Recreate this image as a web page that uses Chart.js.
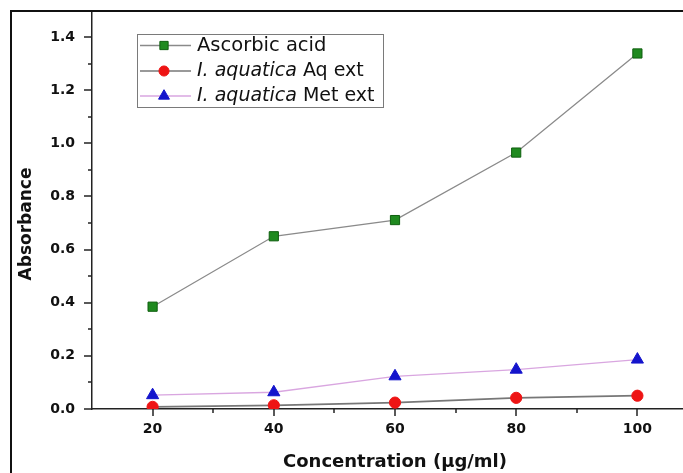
<!DOCTYPE html>
<html><head><meta charset="utf-8">
<script src="https://cdn.jsdelivr.net/npm/chart.js@4.4.1/dist/chart.umd.min.js"></script>
<style>
html,body{margin:0;padding:0;background:#fff;overflow:hidden}
#wrap{position:relative;width:683px;height:473px;overflow:hidden;background:#fff}
#frame{position:absolute;left:10px;top:10px;width:720px;height:520px;border-top:2px solid #111;border-left:2px solid #111;pointer-events:none}
canvas{position:absolute;left:0;top:0}
</style></head><body>
<div id="wrap"><canvas id="c" width="706" height="473"></canvas><div id="frame"></div></div>
<script>
// ---- data ----
const concentrations = [20, 40, 60, 80, 100];
const ascorbicAcid   = [0.385, 0.650, 0.711, 0.965, 1.338];
const aquaticaAq     = [0.008, 0.014, 0.024, 0.042, 0.050];
const aquaticaMet    = [0.052, 0.063, 0.123, 0.148, 0.186];
const seriesNames    = ['Ascorbic acid', 'I. aquatica Aq ext', 'I. aquatica Met ext'];
const xTickLabels    = ['20', '40', '60', '80', '100'];
const yTickLabels    = ['0.0', '0.2', '0.4', '0.6', '0.8', '1.0', '1.2', '1.4'];
const xTitle = 'Concentration (\u03bcg/ml)';
const yTitle = 'Absorbance';

const toPoints = arr => concentrations.map((c, i) => ({x: c, y: arr[i]}));

const styles = [
  {line: '#8a8a8a', fill: '#1f8a1f', edge: '#0f5f0f', shape: 'rect', r: 6.5, bw: 1.3},
  {line: '#777777', fill: '#ee1414', edge: '#ee1414', shape: 'circle', r: 5.6, bw: 1.8},
  {line: '#d9a6e0', fill: '#1414cc', edge: '#1414cc', shape: 'triangle', r: 7, bw: 1.3}
];
const seriesData = [ascorbicAcid, aquaticaAq, aquaticaMet];

const datasets = seriesData.map((arr, i) => ({
  label: seriesNames[i],
  data: toPoints(arr),
  borderColor: styles[i].line,
  borderWidth: styles[i].bw,
  backgroundColor: styles[i].fill,
  pointBackgroundColor: styles[i].fill,
  pointBorderColor: styles[i].edge,
  pointBorderWidth: 1,
  pointStyle: styles[i].shape,
  pointRadius: styles[i].r,
  pointHoverRadius: styles[i].r,
  tension: 0,
  fill: false
}));

function drawMarker(ctx, shape, x, y, r, fill, edge) {
  ctx.save();
  ctx.fillStyle = fill; ctx.strokeStyle = edge; ctx.lineWidth = 1;
  ctx.beginPath();
  if (shape === 'rect') {
    const s = r * Math.SQRT1_2;
    ctx.rect(x - s, y - s, 2 * s, 2 * s);
  } else if (shape === 'circle') {
    ctx.arc(x, y, r, 0, Math.PI * 2);
  } else {
    const h = r * 1.5, half = r * Math.sqrt(3) / 2;
    ctx.moveTo(x, y - r);
    ctx.lineTo(x + half, y - r + h);
    ctx.lineTo(x - half, y - r + h);
    ctx.closePath();
  }
  ctx.fill(); ctx.stroke();
  ctx.restore();
}

const tickPlugin = {
  id: 'originTicks',
  afterDraw(chart) {
    const ctx = chart.ctx, xs = chart.scales.x, ys = chart.scales.y;
    ctx.save();
    ctx.strokeStyle = '#222'; ctx.lineWidth = 1.5;
    xs.ticks.forEach(t => {
      if (t.value <= xs.min + 1e-9) return;
      const px = Math.round(xs.getPixelForValue(t.value));
      const major = xTickLabels.includes(String(Math.round(t.value)));
      ctx.beginPath(); ctx.moveTo(px, xs.top); ctx.lineTo(px, xs.top + (major ? 7 : 4)); ctx.stroke();
    });
    ys.ticks.forEach(t => {
      const py = Math.round(ys.getPixelForValue(t.value));
      const major = yTickLabels.includes(t.value.toFixed(1)) && Math.round(t.value * 10) % 2 === 0;
      ctx.beginPath(); ctx.moveTo(ys.right - (major ? 8 : 4), py); ctx.lineTo(ys.right, py); ctx.stroke();
    });
    // y axis title, placed like the reference (slightly below the axis centre)
    ctx.translate(27, 224);
    ctx.rotate(-Math.PI / 2);
    ctx.fillStyle = '#111';
    ctx.font = 'bold 17px "DejaVu Sans"';
    ctx.textAlign = 'center'; ctx.textBaseline = 'middle';
    ctx.fillText(yTitle, 0, 0);
    ctx.restore();
  }
};

const legendPlugin = {
  id: 'originLegend',
  afterDraw(chart) {
    const ctx = chart.ctx;
    const bx = 137, by = 34, bw = 246, bh = 73;
    ctx.save();
    ctx.fillStyle = '#fff';
    ctx.fillRect(bx, by, bw, bh);
    ctx.strokeStyle = '#7a7a7a'; ctx.lineWidth = 1;
    ctx.strokeRect(bx + 0.5, by + 0.5, bw, bh);
    const rows = [45.5, 71, 96];
    seriesNames.forEach((name, i) => {
      const y = rows[i], st = styles[i];
      ctx.strokeStyle = st.line; ctx.lineWidth = 1.3;
      ctx.beginPath(); ctx.moveTo(bx + 3, y); ctx.lineTo(bx + 54, y); ctx.stroke();
      drawMarker(ctx, st.shape, bx + 27, y, st.r * 0.9, st.fill, st.edge);
      ctx.fillStyle = '#111'; ctx.textBaseline = 'middle'; ctx.textAlign = 'left';
      const m = name.match(/^(I\. aquatica)(.*)$/);
      let x = bx + 60;
      if (m) {
        ctx.font = 'italic 19px "DejaVu Sans"';
        ctx.fillText(m[1], x, y);
        x += ctx.measureText(m[1]).width;
        ctx.font = '19px "DejaVu Sans"';
        ctx.fillText(m[2], x, y);
      } else {
        ctx.font = '19.5px "DejaVu Sans"';
        ctx.fillText(name, x, y);
      }
    });
    ctx.restore();
  }
};

Chart.defaults.font.family = '"DejaVu Sans", sans-serif';
Chart.defaults.color = '#111';

const noPad = s => { s.paddingTop = 0; s.paddingBottom = 0; s.paddingLeft = 0; s.paddingRight = 0; };

new Chart(document.getElementById('c'), {
  type: 'line',
  data: {datasets},
  plugins: [tickPlugin, legendPlugin],
  options: {
    responsive: false,
    animation: false,
    devicePixelRatio: 1,
    layout: {padding: {top: 12, right: 2, left: 0, bottom: 0}},
    plugins: {legend: {display: false}, tooltip: {enabled: false}},
    scales: {
      x: {
        type: 'linear', min: 10, max: 110,
        grid: {display: false, drawTicks: false},
        border: {display: true, color: '#222', width: 1.5},
        ticks: {
          stepSize: 10, autoSkip: false, maxRotation: 0, includeBounds: false,
          padding: 12, font: {size: 14, weight: 'bold'}, color: '#111',
          callback: v => xTickLabels.includes(String(v)) ? String(v) : ''
        },
        title: {display: true, text: xTitle, font: {size: 18, weight: 'bold'}, color: '#111', padding: {top: 0, bottom: 0}},
        afterFit: s => { s.height = 64; noPad(s); }
      },
      y: {
        type: 'linear', min: 0, max: 1.494,
        grid: {display: false, drawTicks: false},
        border: {display: true, color: '#222', width: 1.5},
        ticks: {
          stepSize: 0.1, autoSkip: false, includeBounds: false,
          padding: 17, font: {size: 14, weight: 'bold'}, color: '#111',
          callback: v => { const s = v.toFixed(1); return (Math.round(v * 10) % 2 === 0 && yTickLabels.includes(s)) ? s : ''; }
        },
        title: {display: false, text: yTitle},
        afterFit: s => { s.width = 92; noPad(s); }
      }
    }
  }
});
</script>
</body></html>
